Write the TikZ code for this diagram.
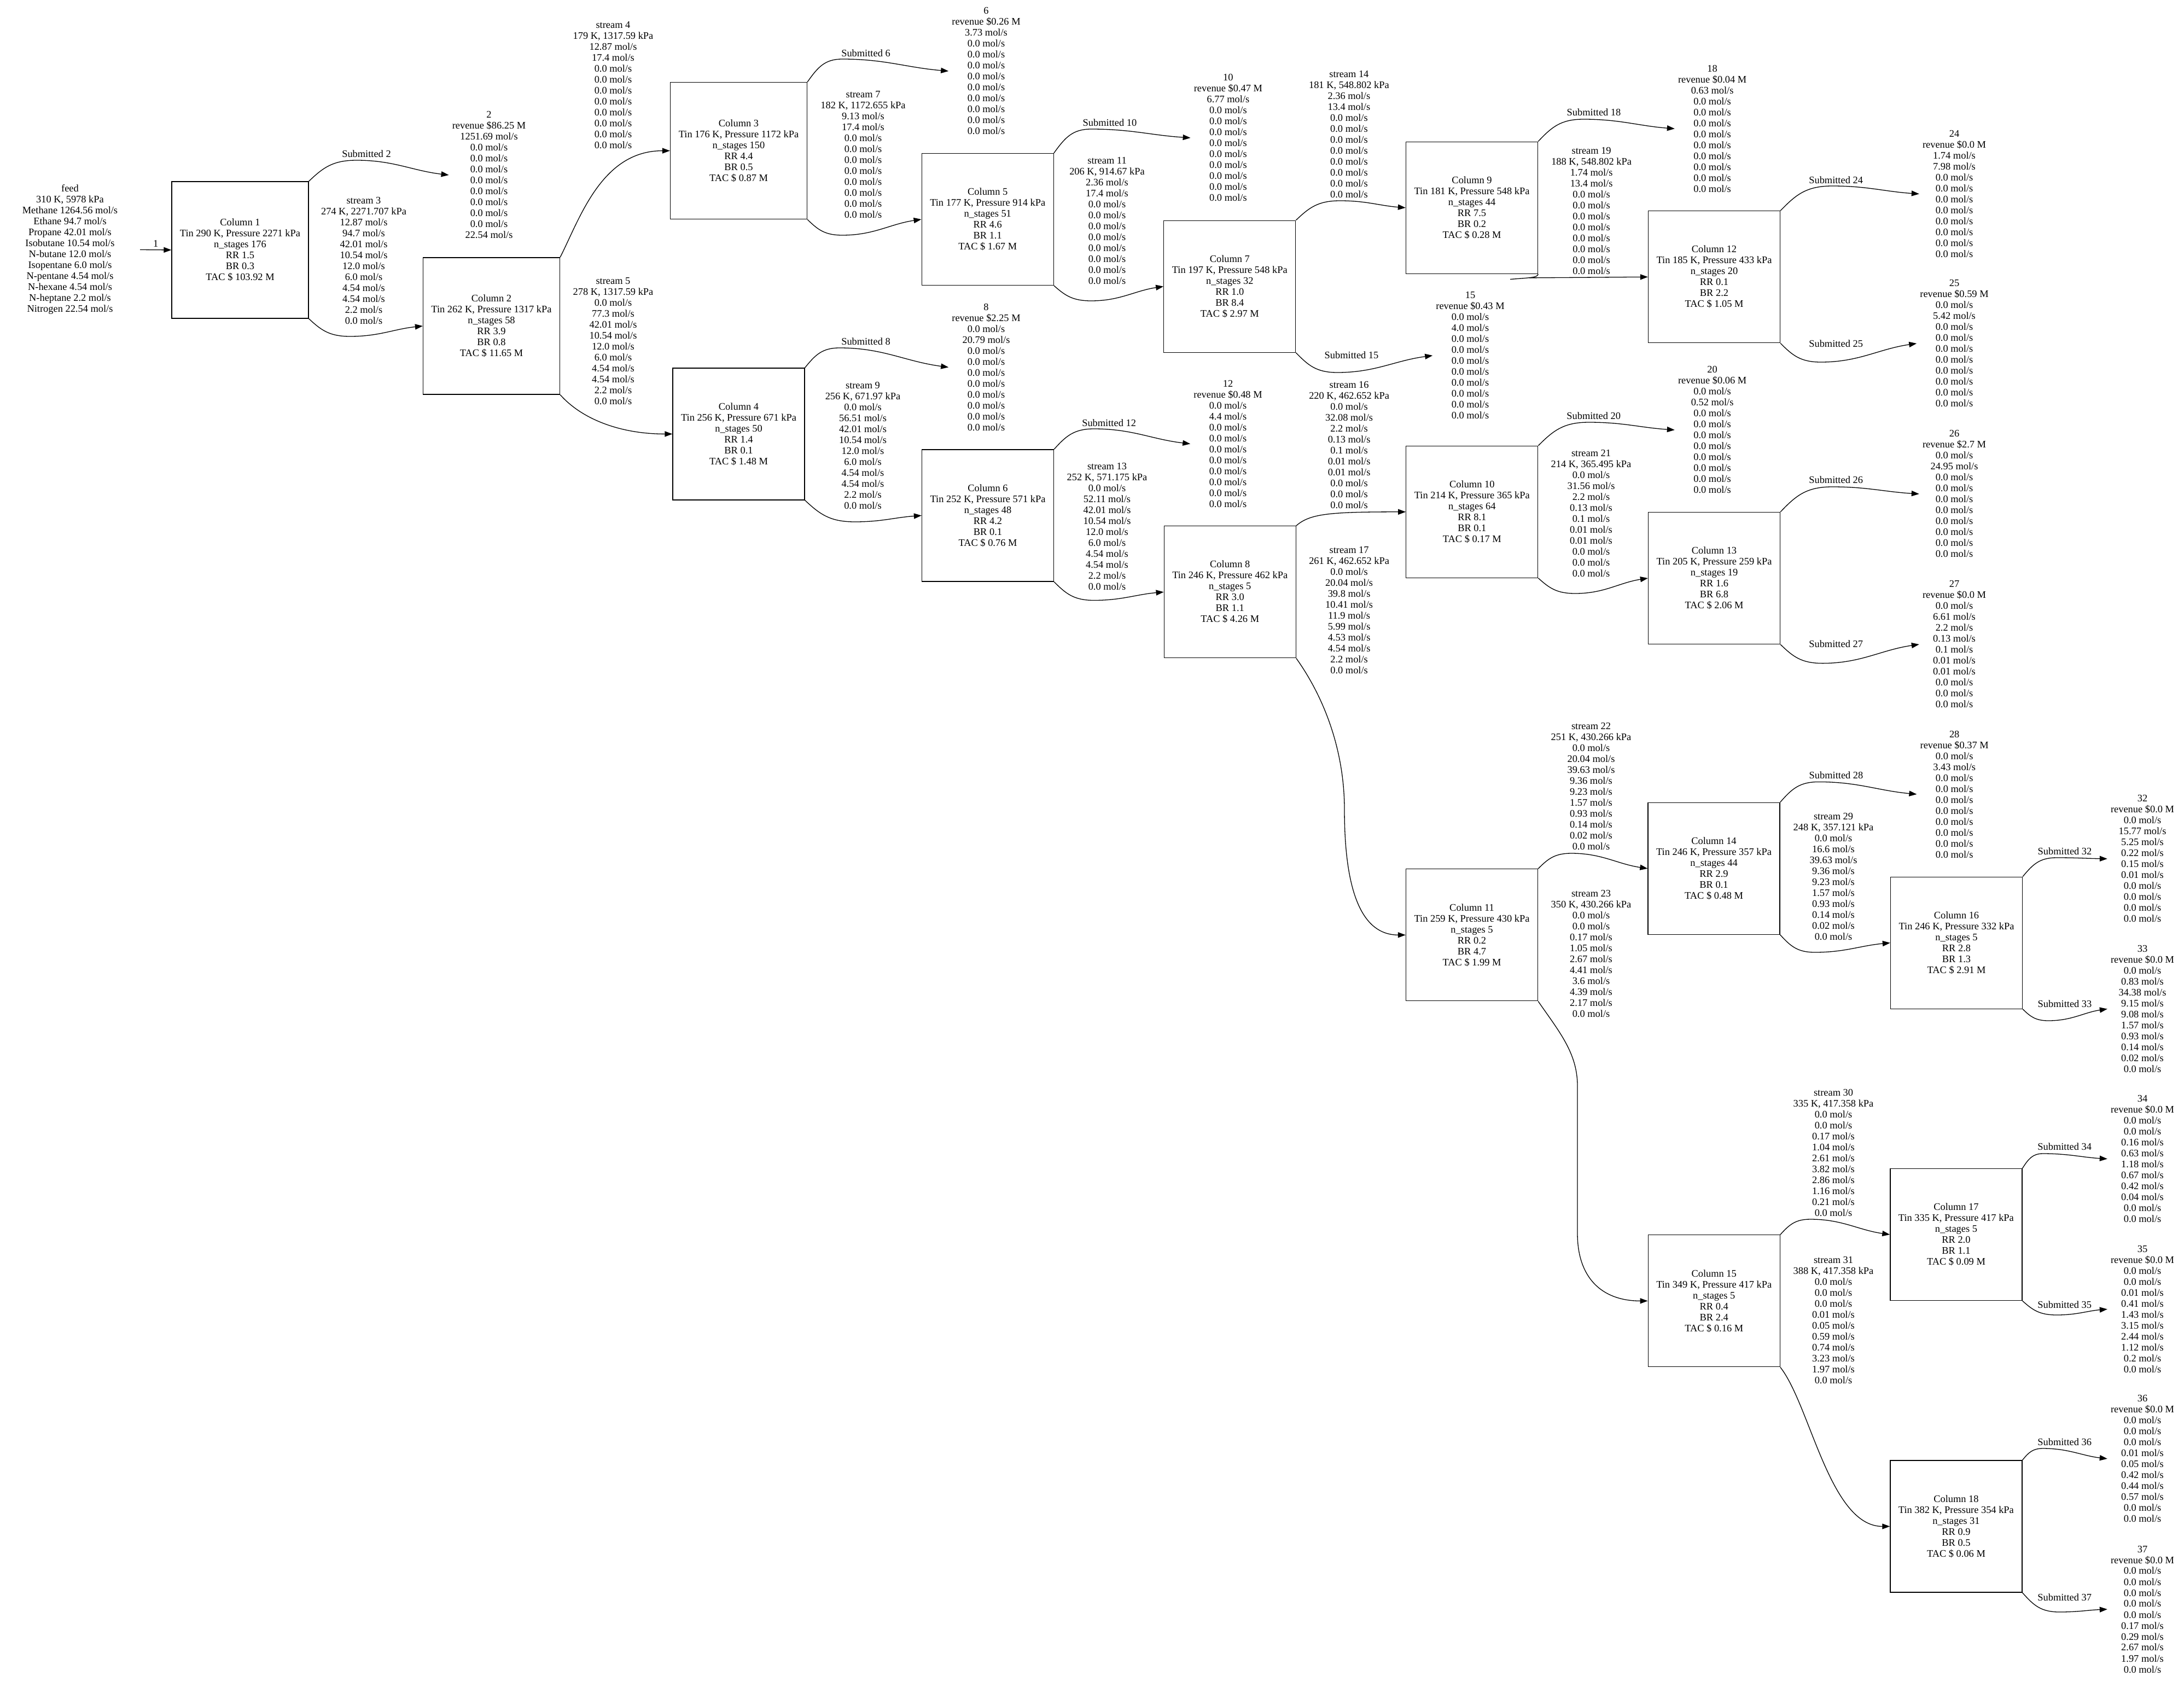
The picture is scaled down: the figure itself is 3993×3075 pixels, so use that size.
\documentclass[tikz,border=0pt]{standalone}
\usepackage{fontspec}
\setmainfont{Liberation Serif}
\usetikzlibrary{arrows.meta,calc}
\newcommand\zr{0.0 mol/s}
\newcommand\wavy[3]{%
  \draw[arr] let \p1=(#1), \p2=(#2), \p3=(#3) in
    (\p1) .. controls ({\x1+0.3*(\x2-\x1)},{\y1+0.65*(\y2-\y1)}) and ({\x2-0.5*(\x2-\x1)},{\y2}) .. (\p2)
    .. controls ({\x2+0.4*(\x3-\x2)},{\y2}) and ({\x3-0.4*(\x3-\x2)},{\y3+0.3*(\y2-\y3)}) .. (\p3);}
\begin{document}
\begin{tikzpicture}[x=1pt,y=-1pt,
  every node/.style={font=\fontsize{18.4}{20}\selectfont, inner sep=0pt},
  lbl/.style={align=center},
  pnode/.style={align=center, inner xsep=6pt},
  col/.style={draw, line width=1.3pt, align=center, minimum width=241pt, minimum height=241pt},
  colw/.style={col, minimum width=250pt, minimum height=250pt},
  arr/.style={line width=1.3pt, -{Triangle[length=14pt,width=10pt]}},
  plain/.style={line width=1.3pt}]
\useasboundingbox (0,0) rectangle (3993,3075);
\fill[white] (0,0) rectangle (3993,3075);

% ---------- columns ----------
\node[colw] (c1) at (439,457) {Column 1\\Tin 290 K, Pressure 2271 kPa\\n\_stages 176\\RR 1.5\\BR 0.3\\TAC \$ 103.92 M};
\node[colw] (c2) at (898.5,596) {Column 2\\Tin 262 K, Pressure 1317 kPa\\n\_stages 58\\RR 3.9\\BR 0.8\\TAC \$ 11.65 M};
\node[colw] (c3) at (1350.5,275.6) {Column 3\\Tin 176 K, Pressure 1172 kPa\\n\_stages 150\\RR 4.4\\BR 0.5\\TAC \$ 0.87 M};
\node[col] (c4) at (1350.5,793.4) {Column 4\\Tin 256 K, Pressure 671 kPa\\n\_stages 50\\RR 1.4\\BR 0.1\\TAC \$ 1.48 M};
\node[col] (c5) at (1805.7,401) {Column 5\\Tin 177 K, Pressure 914 kPa\\n\_stages 51\\RR 4.6\\BR 1.1\\TAC \$ 1.67 M};
\node[col] (c6) at (1806,942.5) {Column 6\\Tin 252 K, Pressure 571 kPa\\n\_stages 48\\RR 4.2\\BR 0.1\\TAC \$ 0.76 M};
\node[col] (c7) at (2248.3,523.7) {Column 7\\Tin 197 K, Pressure 548 kPa\\n\_stages 32\\RR 1.0\\BR 8.4\\TAC \$ 2.97 M};
\node[col] (c8) at (2248.7,1082.3) {Column 8\\Tin 246 K, Pressure 462 kPa\\n\_stages 5\\RR 3.0\\BR 1.1\\TAC \$ 4.26 M};
\node[col] (c9) at (2691,379.8) {Column 9\\Tin 181 K, Pressure 548 kPa\\n\_stages 44\\RR 7.5\\BR 0.2\\TAC \$ 0.28 M};
\node[col] (c10) at (2691.3,935.8) {Column 10\\Tin 214 K, Pressure 365 kPa\\n\_stages 64\\RR 8.1\\BR 0.1\\TAC \$ 0.17 M};
\node[col] (c11) at (2691,1709.3) {Column 11\\Tin 259 K, Pressure 430 kPa\\n\_stages 5\\RR 0.2\\BR 4.7\\TAC \$ 1.99 M};
\node[col] (c12) at (3134,506.3) {Column 12\\Tin 185 K, Pressure 433 kPa\\n\_stages 20\\RR 0.1\\BR 2.2\\TAC \$ 1.05 M};
\node[col] (c13) at (3134,1057) {Column 13\\Tin 205 K, Pressure 259 kPa\\n\_stages 19\\RR 1.6\\BR 6.8\\TAC \$ 2.06 M};
\node[col] (c14) at (3133.5,1587.8) {Column 14\\Tin 246 K, Pressure 357 kPa\\n\_stages 44\\RR 2.9\\BR 0.1\\TAC \$ 0.48 M};
\node[col] (c15) at (3133.7,2378.3) {Column 15\\Tin 349 K, Pressure 417 kPa\\n\_stages 5\\RR 0.4\\BR 2.4\\TAC \$ 0.16 M};
\node[col] (c16) at (3577,1723.7) {Column 16\\Tin 246 K, Pressure 332 kPa\\n\_stages 5\\RR 2.8\\BR 1.3\\TAC \$ 2.91 M};
\node[col] (c17) at (3576.4,2257) {Column 17\\Tin 335 K, Pressure 417 kPa\\n\_stages 5\\RR 2.0\\BR 1.1\\TAC \$ 0.09 M};
\node[col] (c18) at (3576.4,2790.5) {Column 18\\Tin 382 K, Pressure 354 kPa\\n\_stages 31\\RR 0.9\\BR 0.5\\TAC \$ 0.06 M};

% ---------- feed and products ----------
\node[pnode, minimum width=256pt] (feed) at (128,456.5) {feed\\310 K, 5978 kPa\\Methane 1264.56 mol/s\\Ethane 94.7 mol/s\\Propane 42.01 mol/s\\Isobutane 10.54 mol/s\\N-butane 12.0 mol/s\\Isopentane 6.0 mol/s\\N-pentane 4.54 mol/s\\N-hexane 4.54 mol/s\\N-heptane 2.2 mol/s\\Nitrogen 22.54 mol/s};
\node[pnode] (n2) at (894,320) {2\\revenue \$86.25 M\\1251.69 mol/s\\\zr\\\zr\\\zr\\\zr\\\zr\\\zr\\\zr\\\zr\\22.54 mol/s};
\node[pnode] (n6) at (1803,130) {6\\revenue \$0.26 M\\3.73 mol/s\\\zr\\\zr\\\zr\\\zr\\\zr\\\zr\\\zr\\\zr\\\zr};
\node[pnode] (n8) at (1803,671.4) {8\\revenue \$2.25 M\\\zr\\20.79 mol/s\\\zr\\\zr\\\zr\\\zr\\\zr\\\zr\\\zr\\\zr};
\node[pnode] (n10) at (2245.4,252) {10\\revenue \$0.47 M\\6.77 mol/s\\\zr\\\zr\\\zr\\\zr\\\zr\\\zr\\\zr\\\zr\\\zr};
\node[pnode] (n12) at (2245,811.4) {12\\revenue \$0.48 M\\\zr\\4.4 mol/s\\\zr\\\zr\\\zr\\\zr\\\zr\\\zr\\\zr\\\zr};
\node[pnode] (n15) at (2688,650) {15\\revenue \$0.43 M\\\zr\\4.0 mol/s\\\zr\\\zr\\\zr\\\zr\\\zr\\\zr\\\zr\\\zr};
\node[pnode] (n18) at (3130.6,235.3) {18\\revenue \$0.04 M\\0.63 mol/s\\\zr\\\zr\\\zr\\\zr\\\zr\\\zr\\\zr\\\zr\\\zr};
\node[pnode] (n20) at (3130.6,786) {20\\revenue \$0.06 M\\\zr\\0.52 mol/s\\\zr\\\zr\\\zr\\\zr\\\zr\\\zr\\\zr\\\zr};
\node[pnode] (n24) at (3573,354.5) {24\\revenue \$0.0 M\\1.74 mol/s\\7.98 mol/s\\\zr\\\zr\\\zr\\\zr\\\zr\\\zr\\\zr\\\zr};
\node[pnode] (n25) at (3573,627.9) {25\\revenue \$0.59 M\\\zr\\5.42 mol/s\\\zr\\\zr\\\zr\\\zr\\\zr\\\zr\\\zr\\\zr};
\node[pnode] (n26) at (3573,903) {26\\revenue \$2.7 M\\\zr\\24.95 mol/s\\\zr\\\zr\\\zr\\\zr\\\zr\\\zr\\\zr\\\zr};
\node[pnode] (n27) at (3573,1178) {27\\revenue \$0.0 M\\\zr\\6.61 mol/s\\2.2 mol/s\\0.13 mol/s\\0.1 mol/s\\0.01 mol/s\\0.01 mol/s\\\zr\\\zr\\\zr};
\node[pnode] (n28) at (3573.2,1452) {28\\revenue \$0.37 M\\\zr\\3.43 mol/s\\\zr\\\zr\\\zr\\\zr\\\zr\\\zr\\\zr\\\zr};
\node[pnode] (n32) at (3917,1570) {32\\revenue \$0.0 M\\\zr\\15.77 mol/s\\5.25 mol/s\\0.22 mol/s\\0.15 mol/s\\0.01 mol/s\\\zr\\\zr\\\zr\\\zr};
\node[pnode] (n33) at (3917,1844.5) {33\\revenue \$0.0 M\\\zr\\0.83 mol/s\\34.38 mol/s\\9.15 mol/s\\9.08 mol/s\\1.57 mol/s\\0.93 mol/s\\0.14 mol/s\\0.02 mol/s\\\zr};
\node[pnode] (n34) at (3917,2118.6) {34\\revenue \$0.0 M\\\zr\\\zr\\0.16 mol/s\\0.63 mol/s\\1.18 mol/s\\0.67 mol/s\\0.42 mol/s\\0.04 mol/s\\\zr\\\zr};
\node[pnode] (n35) at (3917,2393.4) {35\\revenue \$0.0 M\\\zr\\\zr\\0.01 mol/s\\0.41 mol/s\\1.43 mol/s\\3.15 mol/s\\2.44 mol/s\\1.12 mol/s\\0.2 mol/s\\\zr};
\node[pnode] (n36) at (3917,2666.8) {36\\revenue \$0.0 M\\\zr\\\zr\\\zr\\0.01 mol/s\\0.05 mol/s\\0.42 mol/s\\0.44 mol/s\\0.57 mol/s\\\zr\\\zr};
\node[pnode] (n37) at (3917,2942) {37\\revenue \$0.0 M\\\zr\\\zr\\\zr\\\zr\\\zr\\0.17 mol/s\\0.29 mol/s\\2.67 mol/s\\1.97 mol/s\\\zr};

% ---------- stream labels ----------
\node[lbl] (s3) at (665,476.4) {stream 3\\274 K, 2271.707 kPa\\12.87 mol/s\\94.7 mol/s\\42.01 mol/s\\10.54 mol/s\\12.0 mol/s\\6.0 mol/s\\4.54 mol/s\\4.54 mol/s\\2.2 mol/s\\\zr};
\node[lbl] (s4) at (1121,156) {stream 4\\179 K, 1317.59 kPa\\12.87 mol/s\\17.4 mol/s\\\zr\\\zr\\\zr\\\zr\\\zr\\\zr\\\zr\\\zr};
\node[lbl] (s5) at (1121,623.8) {stream 5\\278 K, 1317.59 kPa\\\zr\\77.3 mol/s\\42.01 mol/s\\10.54 mol/s\\12.0 mol/s\\6.0 mol/s\\4.54 mol/s\\4.54 mol/s\\2.2 mol/s\\\zr};
\node[lbl] (s7) at (1578,282.4) {stream 7\\182 K, 1172.655 kPa\\9.13 mol/s\\17.4 mol/s\\\zr\\\zr\\\zr\\\zr\\\zr\\\zr\\\zr\\\zr};
\node[lbl] (s9) at (1577.5,815) {stream 9\\256 K, 671.97 kPa\\\zr\\56.51 mol/s\\42.01 mol/s\\10.54 mol/s\\12.0 mol/s\\6.0 mol/s\\4.54 mol/s\\4.54 mol/s\\2.2 mol/s\\\zr};
\node[lbl] (s11) at (2024,404) {stream 11\\206 K, 914.67 kPa\\2.36 mol/s\\17.4 mol/s\\\zr\\\zr\\\zr\\\zr\\\zr\\\zr\\\zr\\\zr};
\node[lbl] (s13) at (2024,962.5) {stream 13\\252 K, 571.175 kPa\\\zr\\52.11 mol/s\\42.01 mol/s\\10.54 mol/s\\12.0 mol/s\\6.0 mol/s\\4.54 mol/s\\4.54 mol/s\\2.2 mol/s\\\zr};
\node[lbl] (s14) at (2466.4,246) {stream 14\\181 K, 548.802 kPa\\2.36 mol/s\\13.4 mol/s\\\zr\\\zr\\\zr\\\zr\\\zr\\\zr\\\zr\\\zr};
\node[lbl] (s16) at (2466.6,814) {stream 16\\220 K, 462.652 kPa\\\zr\\32.08 mol/s\\2.2 mol/s\\0.13 mol/s\\0.1 mol/s\\0.01 mol/s\\0.01 mol/s\\\zr\\\zr\\\zr};
\node[lbl] (s17) at (2466.6,1115.5) {stream 17\\261 K, 462.652 kPa\\\zr\\20.04 mol/s\\39.8 mol/s\\10.41 mol/s\\11.9 mol/s\\5.99 mol/s\\4.53 mol/s\\4.54 mol/s\\2.2 mol/s\\\zr};
\node[lbl] (s19) at (2909.6,386) {stream 19\\188 K, 548.802 kPa\\1.74 mol/s\\13.4 mol/s\\\zr\\\zr\\\zr\\\zr\\\zr\\\zr\\\zr\\\zr};
\node[lbl] (s21) at (2909,938.8) {stream 21\\214 K, 365.495 kPa\\\zr\\31.56 mol/s\\2.2 mol/s\\0.13 mol/s\\0.1 mol/s\\0.01 mol/s\\0.01 mol/s\\\zr\\\zr\\\zr};
\node[lbl] (s22) at (2909,1438) {stream 22\\251 K, 430.266 kPa\\\zr\\20.04 mol/s\\39.63 mol/s\\9.36 mol/s\\9.23 mol/s\\1.57 mol/s\\0.93 mol/s\\0.14 mol/s\\0.02 mol/s\\\zr};
\node[lbl] (s23) at (2909,1744) {stream 23\\350 K, 430.266 kPa\\\zr\\\zr\\0.17 mol/s\\1.05 mol/s\\2.67 mol/s\\4.41 mol/s\\3.6 mol/s\\4.39 mol/s\\2.17 mol/s\\\zr};
\node[lbl] (s29) at (3352,1603) {stream 29\\248 K, 357.121 kPa\\\zr\\16.6 mol/s\\39.63 mol/s\\9.36 mol/s\\9.23 mol/s\\1.57 mol/s\\0.93 mol/s\\0.14 mol/s\\0.02 mol/s\\\zr};
\node[lbl] (s30) at (3352,2107.4) {stream 30\\335 K, 417.358 kPa\\\zr\\\zr\\0.17 mol/s\\1.04 mol/s\\2.61 mol/s\\3.82 mol/s\\2.86 mol/s\\1.16 mol/s\\0.21 mol/s\\\zr};
\node[lbl] (s31) at (3352,2414) {stream 31\\388 K, 417.358 kPa\\\zr\\\zr\\\zr\\0.01 mol/s\\0.05 mol/s\\0.59 mol/s\\0.74 mol/s\\3.23 mol/s\\1.97 mol/s\\\zr};

% ---------- submitted labels ----------
\node (u2) at (670,281) {Submitted 2};
\node (u6) at (1583,97) {Submitted 6};
\node (u8) at (1583,624.3) {Submitted 8};
\node (u10) at (2029,224.7) {Submitted 10};
\node (u12) at (2027.6,773.6) {Submitted 12};
\node (u15) at (2471,648.8) {Submitted 15};
\node (u18) at (2914,205.3) {Submitted 18};
\node (u20) at (2913.7,759.8) {Submitted 20};
\node (u24) at (3356.6,328.8) {Submitted 24};
\node (u25) at (3356.6,628.4) {Submitted 25};
\node (u26) at (3356.6,877.6) {Submitted 26};
\node (u27) at (3356.6,1177.3) {Submitted 27};
\node (u28) at (3357,1417.2) {Submitted 28};
\node (u32) at (3775,1556.5) {Submitted 32};
\node (u33) at (3775,1835.6) {Submitted 33};
\node (u34) at (3774.7,2096.6) {Submitted 34};
\node (u35) at (3774.7,2385) {Submitted 35};
\node (u36) at (3774.7,2635.7) {Submitted 36};
\node (u37) at (3774.7,2920.6) {Submitted 37};

% ---------- edges ----------
\draw[arr] (feed.east) -- node[yshift=11pt] (e1) {1} (c1.west);
\wavy{c1.north east}{652,293}{n2.west}
\wavy{c1.south east}{640,615}{c2.west}
\draw[arr] (c2.north east) .. controls +(36,-71) and +(-125,0) .. (c3.west);
\draw[arr] (c2.south east) .. controls +(40,45) and +(-95,0) .. (c4.west);
\wavy{c3.north east}{1540,108}{n6.west}
\wavy{c3.south east}{1540,430}{c5.west}
\wavy{c4.north east}{1535,636}{n8.west}
\wavy{c4.south east}{1563,954}{c6.west}
\wavy{c5.north east}{1995,236}{n10.west}
\wavy{c5.south east}{1995,550}{c7.west}
\wavy{c6.north east}{2000,784}{n12.west}
\wavy{c6.south east}{2000,1097.5}{c8.west}
\wavy{c7.north east}{2450,367}{c9.west}
\wavy{c7.south east}{2445,681}{n15.west}
\draw[arr] (c8.north east) .. controls +(25,-22) and +(-140,0) .. (c10.west);
\draw[arr] (c8.south east) .. controls +(50,70) and +(0,-110) .. (2458,1480) .. controls +(0,150) and +(-80,0) .. (c11.west);
\wavy{c9.north east}{2895,218}{n18.west}
\coordinate (t9) at (2761,510.6);
\draw[plain] (t9) .. controls (2792,508) and (2812,508) .. (c9.south east);
\draw[arr] ([shift={(-16,7)}]c9.south east) -- (c12.west);
\wavy{c10.north east}{2905,772}{n20.west}
\wavy{c10.south east}{2880,1085}{c13.west}
\wavy{c11.north east}{2873,1560}{c14.west}
\draw[arr] (c11.south east) .. controls +(38,55) and +(0,-60) .. (2884,1985) -- (2884,2255) .. controls +(0,80) and +(-85,0) .. (c15.west);
\wavy{c12.north east}{3350,340}{n24.west}
\wavy{c12.south east}{3329,662}{n25.west}
\wavy{c13.north east}{3350,890}{n26.west}
\wavy{c13.south east}{3332,1212.6}{n27.west}
\wavy{c14.north east}{3325,1429.4}{n28.west}
\wavy{c14.south east}{3318,1741}{c16.west}
\wavy{c15.north east}{3310,2229}{c17.west}
\draw[arr] (c15.south east) .. controls +(55,70) and +(-110,0) .. (c18.west);
\wavy{c16.north east}{3760,1568}{n32.west}
\wavy{c16.south east}{3745,1866}{n33.west}
\wavy{c17.north east}{3735,2109}{n34.west}
\wavy{c17.south east}{3760,2404}{n35.west}
\wavy{c18.north east}{3735,2648}{n36.west}
\wavy{c18.south east}{3765,2947}{n37.west}
\end{tikzpicture}
\end{document}
